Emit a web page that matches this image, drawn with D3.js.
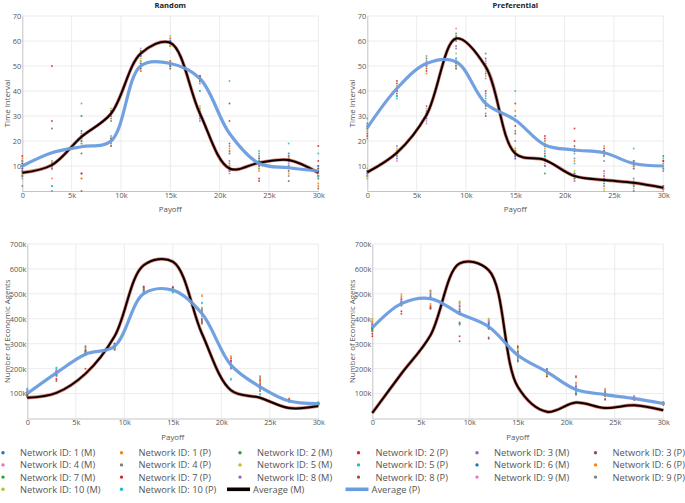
<!DOCTYPE html>
<html><head><meta charset="utf-8">
<script src="https://cdn.jsdelivr.net/npm/d3@7"></script>
<style>body{margin:0;background:#fff} svg{display:block;font-family:'Open Sans',sans-serif}</style>
</head><body><svg id="c" width="685" height="503"></svg>
<script>
// ---------- data ----------
const payoff = [0,3000,6000,9000,12000,15000,18000,21000,24000,27000,30000];
const xTicks = [0,5000,10000,15000,20000,25000,30000];
const xTickLabels = ['0','5k','10k','15k','20k','25k','30k'];
const timeTicks = [10,20,30,40,50,60,70];
const timeTickLabels = ['10','20','30','40','50','60','70'];
const agentTicks = [100,200,300,400,500,600,700];          // thousands
const agentTickLabels = ['100k','200k','300k','400k','500k','600k','700k'];

const networkNames = ['Network ID: 1 (M)','Network ID: 1 (P)','Network ID: 2 (M)','Network ID: 2 (P)',
 'Network ID: 3 (M)','Network ID: 3 (P)','Network ID: 4 (M)','Network ID: 4 (P)',
 'Network ID: 5 (M)','Network ID: 5 (P)','Network ID: 6 (M)','Network ID: 6 (P)',
 'Network ID: 7 (M)','Network ID: 7 (P)','Network ID: 8 (M)','Network ID: 8 (P)',
 'Network ID: 9 (M)','Network ID: 9 (P)','Network ID: 10 (M)','Network ID: 10 (P)'];
const colorway = ['#1f77b4','#ff7f0e','#2ca02c','#d62728','#9467bd','#8c564b','#e377c2','#7f7f7f','#bcbd22','#17becf'];

// Random network, time interval (rows in legend order)
const randomTime = [
 [8,11,22,30,55,60,30,9,12,13,8],
 [12,5,5,19,49,50,45,17,8,7,3],
 [6,9,20,32,56,61,33,8,10,12,6],
 [14,50,7,21,50,52,44,28,5,10,18],
 [9,10,23,29,54,58,28,11,13,14,9],
 [10,25,15,20,51,51,46,19,9,8,9],
 [5,12,21,31,57,59,32,7,11,11,5],
 [2,0,19,18,48,49,43,10,15,6,10],
 [7,9,19,33,53,62,34,10,9,10,7],
 [11,2,35,22,52,50,40,44,16,19,15],
 [10,11,24,30,55,60,29,8,12,15,10],
 [13,9,5,19,48,52,45,15,10,9,2],
 [6,10,22,28,56,58,31,9,14,12,6],
 [11,28,7,20,50,51,46,35,4,12,12],
 [8,9,20,32,54,59,30,12,10,13,8],
 [9,11,0,21,49,50,44,16,13,4,1],
 [7,11,23,31,55,61,32,8,11,11,7],
 [12,10,30,18,51,49,45,18,11,14,5],
 [7,12,21,30,52,58,31,9,12,13,6],
 [10,2,30,20,50,51,40,15,12,10,6]
];
const randomTimeAvgM = [7.3,10.4,21.7,31,55,59.3,31,9,11.3,12.4,7.3];
const randomTimeAvgP = [10,15.3,17.7,20,50,51,45,23,11,9.3,8];

// Preferential network, time interval
const prefTime = [
 [7,15,31,60,50,14,12,6,4,3,1],
 [25,42,50,52,36,30,19,16,15,12,10],
 [6,14,30,62,49,16,10,7,6,2,1],
 [22,44,48,50,40,26,22,25,17,11,12],
 [8,16,32,58,51,13,13,5,2,5,2],
 [26,40,51,49,34,28,18,18,16,10,9],
 [5,12,28,65,52,15,11,4,7,3,0],
 [21,38,52,53,31,24,20,17,12,9,11],
 [9,17,33,55,48,17,12,8,1,4,2],
 [29,37,54,51,38,40,16,15,16,17,13],
 [7,13,29,61,53,14,14,6,5,2,1],
 [24,41,47,52,35,32,17,12,18,10,10],
 [6,15,31,63,47,16,7,5,3,0,1],
 [23,43,49,50,30,23,21,20,15,11,12],
 [8,18,34,57,55,13,10,7,8,3,2],
 [27,39,53,51,39,35,15,16,14,12,14],
 [7,14,27,60,45,15,12,4,6,1,1],
 [25,40,50,49,33,20,18,13,16,9,8],
 [6,16,30,50,46,17,13,6,0,2,1],
 [25,38,51,53,37,30,14,11,15,12,9]
];
const prefTimeAvgM = [7.5,15.3,30.4,61,49.7,15,12.4,6,4.4,3.3,1.3];
const prefTimeAvgP = [25.3,41,51,51.7,35,28.4,18.4,16.4,15.3,11,10];

// Random network, number of economic agents (thousands)
const randomAgents = [
 [110,190,270,285,520,525,440,230,140,75,60],
 [95,175,280,290,510,515,490,250,160,70,55],
 [100,180,260,280,505,510,420,210,120,72,62],
 [90,155,200,300,525,520,385,240,150,78,58],
 [105,185,265,275,500,512,430,200,110,70,60],
 [100,150,275,290,530,528,395,220,130,74,57],
 [115,195,255,285,508,518,410,205,125,70,63],
 [85,170,290,295,515,510,380,215,170,68,55],
 [100,185,262,280,500,522,445,212,115,72,60],
 [120,205,265,290,505,505,465,155,95,73,65],
 [102,182,258,288,512,514,420,218,128,70,61],
 [108,178,285,283,522,520,495,245,145,80,59],
 [98,186,262,278,506,512,425,208,118,71,62],
 [92,160,255,300,528,526,390,232,155,76,57],
 [104,188,268,284,502,515,435,203,112,69,61],
 [97,176,272,292,518,512,400,222,135,73,58],
 [112,192,258,287,510,516,415,207,122,70,63],
 [88,172,288,296,514,511,383,216,165,67,56],
 [101,184,264,281,503,520,442,211,116,71,60],
 [118,200,262,289,506,507,462,160,98,72,64]
];
const randomAgentsAvgM = [83,103,180,330,615,629,341,113,83,42,50];
const randomAgentsAvgP = [100,183,258,290,501,515,421,214,127,70,60];

// Preferential network, number of economic agents (thousands)
const prefAgents = [
 [370,470,500,430,380,260,190,130,100,85,62],
 [390,490,460,460,390,250,175,140,110,80,58],
 [365,460,480,420,370,270,185,120,95,82,60],
 [330,420,450,310,360,290,170,170,90,75,55],
 [380,480,510,450,385,255,195,110,105,88,63],
 [360,465,440,380,320,230,180,100,75,78,57],
 [375,475,505,470,395,265,188,135,120,90,61],
 [355,455,490,440,365,245,200,95,98,80,64],
 [400,500,515,465,400,280,178,125,88,84,59],
 [368,468,485,380,372,232,192,105,102,79,65],
 [362,462,495,428,378,258,186,128,97,83,60],
 [385,485,455,455,388,248,172,145,112,79,57],
 [358,458,478,418,368,268,183,118,94,81,61],
 [340,430,445,330,362,285,168,165,92,76,56],
 [378,478,512,448,383,252,193,112,107,86,62],
 [352,462,442,385,325,235,178,98,78,77,58],
 [372,472,502,468,392,262,186,132,116,88,60],
 [350,452,488,436,362,242,198,97,96,81,63],
 [395,495,512,462,398,278,176,122,90,83,58],
 [366,466,483,376,370,228,190,102,100,78,64]
];
const prefAgentsAvgM = [22,180,334,622,595,127,27,64,42,53,33];
const prefAgentsAvgP = [364,461,481,421,368,254,187,116,96,80,60];

// ---------- drawing ----------
const svg = d3.select('#c');
const txt = '#555';

const panels = [
 {l:22.3, r:318.3, t:16, b:191, yMax:70, ticks:timeTicks, labels:timeTickLabels, title:'Random', yTitle:'Time Interval', ytx:6.5, rows:randomTime, avgM:randomTimeAvgM, avgP:randomTimeAvgP},
 {l:367.3, r:663.3, t:16, b:191, yMax:70, ticks:timeTicks, labels:timeTickLabels, title:'Preferential', yTitle:'Time Interval', ytx:351.5, rows:prefTime, avgM:prefTimeAvgM, avgP:prefTimeAvgP},
 {l:27.3, r:318.3, t:244, b:418.5, yMax:700, ticks:agentTicks, labels:agentTickLabels, title:null, yTitle:'Number of Economic Agents', ytx:6.5, rows:randomAgents, avgM:randomAgentsAvgM, avgP:randomAgentsAvgP},
 {l:372.3, r:663.3, t:244, b:418.5, yMax:700, ticks:agentTicks, labels:agentTickLabels, title:null, yTitle:'Number of Economic Agents', ytx:351.5, rows:prefAgents, avgM:prefAgentsAvgM, avgP:prefAgentsAvgP}
];

panels.forEach(p => {
  const x = d3.scaleLinear().domain([0,30000]).range([p.l,p.r]);
  const y = d3.scaleLinear().domain([0,p.yMax]).range([p.b,p.t]);
  const g = svg.append('g');

  // grid
  g.selectAll('.gx').data(xTicks.slice(1)).enter().append('line')
    .attr('x1',d=>x(d)).attr('x2',d=>x(d)).attr('y1',p.t).attr('y2',p.b)
    .attr('stroke','#ececec').attr('stroke-width',1);
  g.selectAll('.gy').data(p.ticks).enter().append('line')
    .attr('x1',p.l).attr('x2',p.r).attr('y1',d=>y(d)).attr('y2',d=>y(d))
    .attr('stroke','#ececec').attr('stroke-width',1);

  // axes
  const ax = g.append('g').attr('transform',`translate(0,${p.b})`)
    .call(d3.axisBottom(x).tickValues(xTicks).tickFormat((d,i)=>xTickLabels[i]).tickSize(0).tickPadding(1.5));
  const ay = g.append('g').attr('transform',`translate(${p.l},0)`)
    .call(d3.axisLeft(y).tickValues(p.ticks).tickFormat((d,i)=>p.labels[i]).tickSize(0).tickPadding(1));
  [ax,ay].forEach(a=>{
    a.select('.domain').attr('stroke','#c4c4c4').attr('stroke-width',1);
    a.selectAll('text').attr('fill',txt).style('font-size','7.4px').style('font-family',"'Open Sans',sans-serif");
  });

  // scatter points
  p.rows.forEach((row,i)=>{
    g.append('g').selectAll('circle').data(row).enter().append('circle')
      .attr('cx',(d,j)=>x(payoff[j])).attr('cy',d=>y(d)).attr('r',0.95)
      .attr('fill',colorway[i%10]).attr('opacity',0.85);
  });

  const line = d3.line().x((d,j)=>x(payoff[j])).y(d=>y(d)).curve(d3.curveCatmullRom.alpha(0.5));
  g.append('path').attr('d',line(p.avgM)).attr('fill','none').attr('stroke','#c0392b').attr('stroke-opacity',0.65).attr('stroke-width',3.4);
  g.append('path').attr('d',line(p.avgM)).attr('fill','none').attr('stroke','#0a0000').attr('stroke-width',2);
  g.append('path').attr('d',line(p.avgP)).attr('fill','none').attr('stroke','#6a9ce0').attr('stroke-opacity',0.95).attr('stroke-width',3.2);

  // titles
  if (p.title) g.append('text').attr('x',(p.l+p.r)/2).attr('y',7.5).attr('text-anchor','middle')
    .style('font-size','7.6px').style('font-weight','bold').attr('fill','#222').text(p.title);
  g.append('text').attr('x',(p.l+p.r)/2).attr('y',p.b+21).attr('text-anchor','middle')
    .style('font-size','7.8px').attr('fill',txt).text('Payoff');
  g.append('text').attr('transform',`translate(${p.ytx},${(p.t+p.b)/2}) rotate(-90)`)
    .attr('text-anchor','middle').attr('dominant-baseline','central')
    .style('font-size','7.8px').attr('fill',txt).text(p.yTitle);
});

// legend
const legendItems = networkNames.map((n,i)=>({name:n, type:'dot', color:colorway[i%10]}))
  .concat([{name:'Average (M)', type:'line', color:'#0a0000'},{name:'Average (P)', type:'line', color:'#6a9ce0'}]);
const lg = svg.append('g');
legendItems.forEach((it,i)=>{
  const c = i%6, r = Math.floor(i/6);
  const bx = 3 + 118.5*c, by = 452.7 + 12.2*r;
  if (it.type==='dot') {
    lg.append('circle').attr('cx',bx).attr('cy',by).attr('r',1.7).attr('fill',it.color);
    lg.append('text').attr('x',bx+17).attr('y',by).attr('dominant-baseline','central')
      .style('font-size','9.3px').attr('fill',txt).text(it.name);
  } else {
    lg.append('line').attr('x1',bx-13).attr('x2',bx+10).attr('y1',by).attr('y2',by)
      .attr('stroke',it.color).attr('stroke-width',3.6);
    lg.append('text').attr('x',bx+13).attr('y',by).attr('dominant-baseline','central')
      .style('font-size','9.3px').attr('fill',txt).text(it.name);
  }
});
</script>
</body></html>
